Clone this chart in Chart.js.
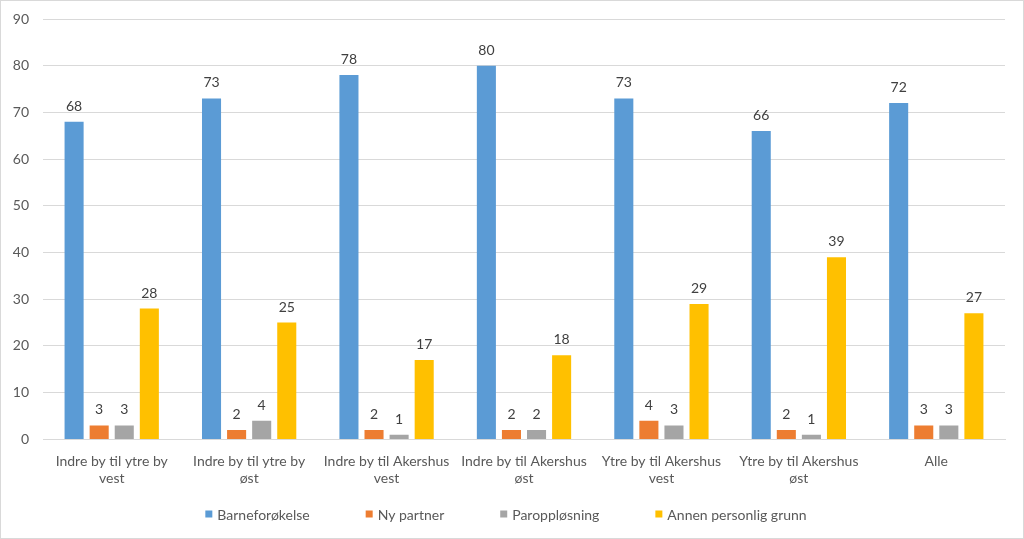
<!DOCTYPE html>
<html>
<head>
<meta charset="utf-8">
<script src="https://cdn.jsdelivr.net/npm/chart.js@4"></script>
<style>
  html, body { margin: 0; padding: 0; background: #fff; }
  #wrap { width: 1024px; height: 539px; box-sizing: border-box; border: 1px solid #d9d9d9; position: relative; }
  canvas { display: block; }
</style>
</head>
<body>
<div id="wrap"><canvas id="chart" width="1022" height="537"></canvas></div>
<script>
const categories = [
  ["Indre by til ytre by", "vest"],
  ["Indre by til ytre by", "øst"],
  ["Indre by til Akershus", "vest"],
  ["Indre by til Akershus", "øst"],
  ["Ytre by til Akershus", "vest"],
  ["Ytre by til Akershus", "øst"],
  ["Alle"]
];
const barneforokelse = [68, 73, 78, 80, 73, 66, 72];
const nyPartner = [3, 2, 2, 2, 4, 2, 3];
const paroppslosning = [3, 4, 1, 2, 3, 1, 3];
const annenGrunn = [28, 25, 17, 18, 29, 39, 27];
const yTicks = [0, 10, 20, 30, 40, 50, 60, 70, 80, 90];

const FONT = "Lato, 'Open Sans', sans-serif";
const TEXT = "#595959";

// value labels above each bar
const barLabels = {
  id: "barLabels",
  afterDatasetsDraw(chart) {
    const ctx = chart.ctx;
    ctx.save();
    ctx.font = "14px " + FONT;
    ctx.fillStyle = "#404040";
    ctx.textAlign = "center";
    ctx.textBaseline = "alphabetic";
    chart.data.datasets.forEach((ds, i) => {
      chart.getDatasetMeta(i).data.forEach((bar, j) => {
        ctx.fillText(ds.data[j], bar.x, bar.y - 11);
      });
    });
    ctx.restore();
  }
};

// legend drawn by hand so items can be spread wide without extra height
const wideLegend = {
  id: "wideLegend",
  afterDraw(chart) {
    const ctx = chart.ctx;
    const gap = 56, box = 7, boxGap = 5;
    ctx.save();
    ctx.font = "14px " + FONT;
    const items = chart.data.datasets.map(ds => ({
      text: ds.label, color: ds.backgroundColor,
      w: box + boxGap + ctx.measureText(ds.label).width
    }));
    const total = items.reduce((s, it) => s + it.w, 0) + gap * (items.length - 1);
    let x = chart.width / 2 - total / 2 - 6;
    const y = 513;
    ctx.textBaseline = "middle";
    ctx.textAlign = "left";
    items.forEach(it => {
      ctx.fillStyle = it.color;
      ctx.fillRect(x, y - box / 2, box, box);
      ctx.fillStyle = TEXT;
      ctx.fillText(it.text, x + box + boxGap, y + 1);
      x += it.w + gap;
    });
    ctx.restore();
  }
};

new Chart(document.getElementById("chart"), {
  type: "bar",
  data: {
    labels: categories,
    datasets: [
      { label: "Barneforøkelse", data: barneforokelse, backgroundColor: "#5B9BD5" },
      { label: "Ny partner", data: nyPartner, backgroundColor: "#ED7D31" },
      { label: "Paroppløsning", data: paroppslosning, backgroundColor: "#A5A5A5" },
      { label: "Annen personlig grunn", data: annenGrunn, backgroundColor: "#FFC000" }
    ]
  },
  options: {
    responsive: false,
    animation: false,
    categoryPercentage: 0.73,
    barPercentage: 0.76,
    layout: { padding: { top: 18, right: 18, bottom: 37, left: 0 } },
    plugins: {
      legend: { display: false },
      tooltip: { enabled: false }
    },
    scales: {
      x: {
        grid: { display: false, drawTicks: false },
        border: { color: "#d9d9d9" },
        ticks: {
          font: { family: FONT, size: 14 },
          color: TEXT,
          maxRotation: 0,
          autoSkip: false,
          padding: 14
        }
      },
      y: {
        min: 0,
        max: 90,
        afterBuildTicks(scale) { scale.ticks = yTicks.map(v => ({ value: v })); },
        afterFit(scale) { scale.width = 42; scale.paddingTop = 0; },
        grid: { color: "#d9d9d9", drawTicks: false },
        border: { display: false },
        ticks: {
          font: { family: FONT, size: 14 },
          color: TEXT,
          padding: 14
        }
      }
    }
  },
  plugins: [barLabels, wideLegend]
});
</script>
</body>
</html>
